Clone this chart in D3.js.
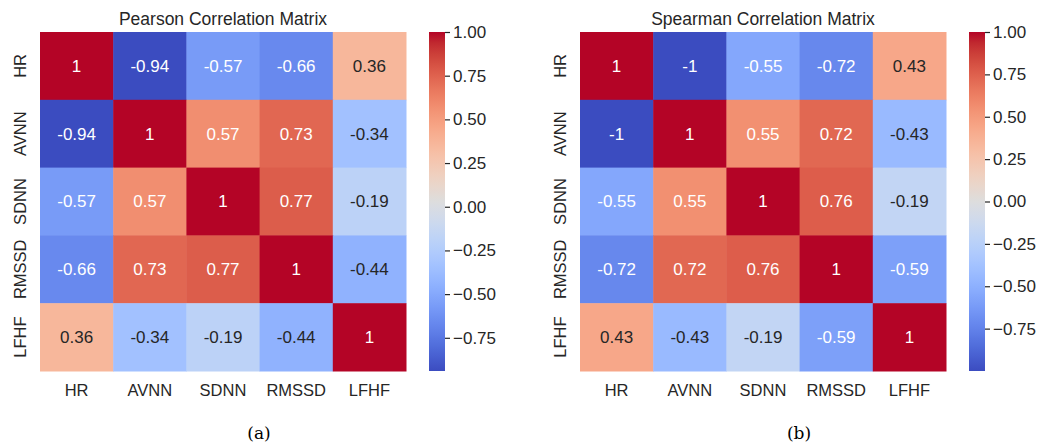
<!DOCTYPE html>
<html>
<head>
<meta charset="utf-8">
<script src="https://cdn.jsdelivr.net/npm/d3@7"></script>
<style>
  body { margin: 0; background: #fff; }
  svg { display: block; }
</style>
</head>
<body>
<div id="chart"></div>
<script>
var w = 1043;
var h = 447;

var labels = ["HR", "AVNN", "SDNN", "RMSSD", "LFHF"];

var pearson = [
  [1, -0.94, -0.57, -0.66, 0.36],
  [-0.94, 1, 0.57, 0.73, -0.34],
  [-0.57, 0.57, 1, 0.77, -0.19],
  [-0.66, 0.73, 0.77, 1, -0.44],
  [0.36, -0.34, -0.19, -0.44, 1]
];
var spearman = [
  [1, -1, -0.55, -0.72, 0.43],
  [-1, 1, 0.55, 0.72, -0.43],
  [-0.55, 0.55, 1, 0.76, -0.19],
  [-0.72, 0.72, 0.76, 1, -0.59],
  [0.43, -0.43, -0.19, -0.59, 1]
];
var cbarTicks = [1, 0.75, 0.5, 0.25, 0, -0.25, -0.5, -0.75];

// matplotlib "coolwarm" control points
var coolwarm = [
  [59,76,192],[68,90,204],[77,104,215],[87,117,225],[98,130,234],[108,142,241],
  [119,154,247],[130,165,251],[141,176,254],[152,185,255],[163,194,255],[174,201,253],
  [184,208,249],[194,213,244],[204,217,238],[213,219,230],[221,221,221],[229,216,209],
  [236,211,197],[241,204,185],[245,196,173],[247,187,160],[247,177,148],[247,166,135],
  [244,154,123],[241,141,111],[236,127,99],[229,112,88],[222,96,77],[213,80,66],
  [203,62,56],[192,40,47],[180,4,38]
].map(function(c) { return d3.rgb(c[0], c[1], c[2]).toString(); });
var cmap = d3.scaleLinear()
  .domain(d3.range(coolwarm.length).map(function(i) { return i / (coolwarm.length - 1); }))
  .range(coolwarm)
  .interpolate(d3.interpolateRgb)
  .clamp(true);

function luminance(c) {
  var rgb = d3.rgb(c);
  var ch = [rgb.r, rgb.g, rgb.b].map(function(v) {
    v = v / 255;
    return v <= 0.03928 ? v / 12.92 : Math.pow((v + 0.055) / 1.055, 2.4);
  });
  return 0.2126 * ch[0] + 0.7152 * ch[1] + 0.0722 * ch[2];
}

// like python's "{:.2g}" -> 1, -1, 0.57
function fmt(v) {
  return String(+v.toPrecision(2));
}

var svg = d3.select("#chart")
  .append("svg")
  .attr("width", w)
  .attr("height", h)
  .style("font-family", "'Liberation Sans', Arial, sans-serif");

function drawPanel(data, title, caption, left) {
  var top = 32, size = 366, bottom = 371;
  var flat = d3.merge(data);
  var vmin = d3.min(flat), vmax = d3.max(flat);
  var norm = d3.scaleLinear().domain([vmin, vmax]).range([0, 1]);
  var color = function(v) { return cmap(norm(v)); };

  var x = d3.scaleBand().domain(labels).range([left, left + size]);
  var y = d3.scaleBand().domain(labels).range([top, bottom]);

  var g = svg.append("g");

  var cells = [];
  data.forEach(function(row, i) {
    row.forEach(function(v, j) {
      cells.push({ r: labels[i], c: labels[j], v: v });
    });
  });

  g.selectAll("rect.cell")
    .data(cells)
    .enter()
    .append("rect")
    .attr("class", "cell")
    .attr("x", function(d) { return x(d.c); })
    .attr("y", function(d) { return y(d.r); })
    .attr("width", x.bandwidth() + 0.5)
    .attr("height", y.bandwidth() + 0.5)
    .attr("fill", function(d) { return color(d.v); });

  g.selectAll("text.annot")
    .data(cells)
    .enter()
    .append("text")
    .attr("class", "annot")
    .attr("x", function(d) { return x(d.c) + x.bandwidth() / 2; })
    .attr("y", function(d) { return y(d.r) + y.bandwidth() / 2; })
    .attr("dy", "0.35em")
    .attr("text-anchor", "middle")
    .attr("font-size", "17px")
    .attr("fill", function(d) { return luminance(color(d.v)) > 0.408 ? "#262626" : "#ffffff"; })
    .text(function(d) { return fmt(d.v); });

  // x labels
  g.selectAll("text.xl")
    .data(labels)
    .enter()
    .append("text")
    .attr("x", function(d) { return x(d) + x.bandwidth() / 2; })
    .attr("y", 390)
    .attr("dy", "0.35em")
    .attr("text-anchor", "middle")
    .attr("font-size", "16.5px")
    .attr("fill", "#262626")
    .text(function(d) { return d; });

  // y labels (rotated)
  g.selectAll("text.yl")
    .data(labels)
    .enter()
    .append("text")
    .attr("transform", function(d) {
      return "translate(" + (left - 20) + "," + (y(d) + y.bandwidth() / 2) + ") rotate(-90)";
    })
    .attr("dy", "0.35em")
    .attr("text-anchor", "middle")
    .attr("font-size", "16.5px")
    .attr("fill", "#262626")
    .text(function(d) { return d; });

  // title
  g.append("text")
    .attr("x", left + size / 2)
    .attr("y", 19)
    .attr("dy", "0.35em")
    .attr("text-anchor", "middle")
    .attr("font-size", "17.5px")
    .attr("fill", "#262626")
    .text(title);

  // colorbar
  var cbX = left + size + 23, cbW = 16;
  var cbScale = d3.scaleLinear().domain([vmin, vmax]).range([bottom, top]);
  var gradId = "grad-" + caption.replace(/\W/g, "");
  var grad = svg.append("defs").append("linearGradient")
    .attr("id", gradId)
    .attr("x1", 0).attr("y1", 1).attr("x2", 0).attr("y2", 0);
  d3.range(0, 1.0001, 1 / 64).forEach(function(t) {
    grad.append("stop")
      .attr("offset", t)
      .attr("stop-color", cmap(t));
  });
  g.append("rect")
    .attr("x", cbX)
    .attr("y", top)
    .attr("width", cbW)
    .attr("height", bottom - top)
    .attr("fill", "url(#" + gradId + ")");

  var axis = d3.axisRight(cbScale)
    .tickValues(cbarTicks.filter(function(t) { return t >= vmin - 1e-9 && t <= vmax + 1e-9; }))
    .tickFormat(function(d) { return d3.format(".2f")(d); })
    .tickSize(5)
    .tickPadding(3);
  var ax = g.append("g")
    .attr("transform", "translate(" + (cbX + cbW) + ",0)")
    .call(axis);
  ax.select(".domain").remove();
  ax.selectAll("line").attr("stroke", "#262626").attr("stroke-width", 1.2);
  ax.selectAll("text")
    .attr("font-size", "17px")
    .attr("font-family", "'Liberation Sans', Arial, sans-serif")
    .attr("fill", "#262626");

  // caption
  svg.append("text")
    .attr("x", left + 219)
    .attr("y", 433)
    .attr("dy", "0.35em")
    .attr("text-anchor", "middle")
    .attr("font-family", "'DejaVu Serif', 'Liberation Serif', serif")
    .attr("font-size", "17px")
    .attr("fill", "#000")
    .text(caption);
}

drawPanel(pearson, "Pearson Correlation Matrix", "(a)", 40);
drawPanel(spearman, "Spearman Correlation Matrix", "(b)", 580);
</script>
</body>
</html>
